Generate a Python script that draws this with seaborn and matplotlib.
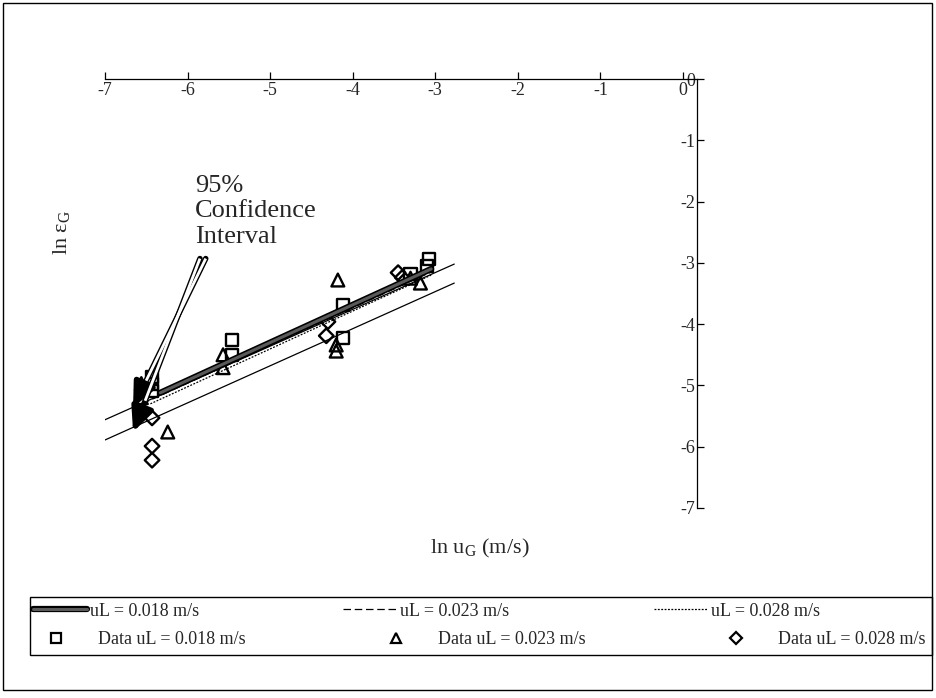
import numpy as np
import pandas as pd
import matplotlib
matplotlib.use("Agg")
import matplotlib.pyplot as plt
import matplotlib.patheffects as pe
from matplotlib.lines import Line2D
from matplotlib.patches import Rectangle
import seaborn as sns

# ---------------- data ----------------
x_ticks = [-7, -6, -5, -4, -3, -2, -1, 0]
x_tick_labels = ["-7", "-6", "-5", "-4", "-3", "-2", "-1", "0"]
y_ticks = [0, -1, -2, -3, -4, -5, -6, -7]
y_tick_labels = ["0", "-1", "-2", "-3", "-4", "-5", "-6", "-7"]

# measured data, ln uG vs ln eps_G
sq_x = [-6.43, -6.43, -6.43, -5.46, -5.46, -4.12, -4.12, -3.30, -3.10, -3.08]
sq_y = [-4.86, -4.98, -5.09, -4.26, -4.50, -3.69, -4.23, -3.18, -3.05, -2.93]
tri_x = [-6.56, -6.56, -6.56, -6.24, -5.57, -5.57, -4.18, -4.20, -4.20, -3.30, -3.18]
tri_y = [-4.97, -5.09, -5.20, -5.76, -4.50, -4.71, -3.28, -4.34, -4.44, -3.25, -3.33]
dia_x = [-6.43, -6.43, -6.43, -4.30, -4.32, -3.45, -3.40]
dia_y = [-5.53, -5.99, -6.22, -3.96, -4.19, -3.16, -3.24]

# fitted lines
fit018_x = [-6.33, -3.05]
fit018_y = [-5.12, -3.10]
fit023_x = [-6.55, -3.05]
fit023_y = [-5.30, -3.15]
fit028_x = [-6.45, -3.05]
fit028_y = [-5.30, -3.20]
# 95% confidence interval bounds
ci_x = [-7.0, -2.77]
ci_upper = [-5.56, -3.02]
ci_lower = [-5.89, -3.33]

legend_labels = ["uL = 0.018 m/s", "uL = 0.023 m/s", "uL = 0.028 m/s",
                 "Data uL = 0.018 m/s", "Data uL = 0.023 m/s", "Data uL = 0.028 m/s"]

# ---------------- style ----------------
sns.set_theme(style="white")
plt.rcParams["font.family"] = ["Liberation Serif", "DejaVu Serif"]
plt.rcParams["axes.unicode_minus"] = False
plt.rcParams["mathtext.fontset"] = "custom"
plt.rcParams["mathtext.rm"] = "Liberation Serif"
plt.rcParams["mathtext.it"] = "Liberation Serif:italic"

W, H = 937, 698
fig = plt.figure(figsize=(W / 100, H / 100), dpi=100)
fig.patch.set_facecolor("white")
ax = fig.add_axes([105 / W, 1 - 508 / H, (697 - 105) / W, (508 - 79) / H])
ax.set_facecolor("white")

# CI lines
for yv in (ci_upper, ci_lower):
    sns.lineplot(x=ci_x, y=yv, ax=ax, color="black", lw=0.9, legend=False,
                 estimator=None, sort=False)

# fit lines
sns.lineplot(x=fit028_x, y=fit028_y, ax=ax, color="black", lw=0.9, legend=False,
             estimator=None, sort=False)
ax.lines[-1].set_dashes([1.5, 1.2])
sns.lineplot(x=fit023_x, y=fit023_y, ax=ax, color="black", lw=0.9, legend=False,
             estimator=None, sort=False)
ax.lines[-1].set_dashes([6, 3])
sns.lineplot(x=fit018_x, y=fit018_y, ax=ax, color="#5a5a5a", lw=2.2, legend=False,
             estimator=None, sort=False)
ax.lines[-1].set_path_effects([pe.Stroke(linewidth=4.5, foreground="black"), pe.Normal()])

# data markers
for xs, ys, mk, ms in ((sq_x, sq_y, "s", 75), (tri_x, tri_y, "^", 85), (dia_x, dia_y, "D", 55)):
    sns.scatterplot(x=xs, y=ys, ax=ax, marker=mk, s=ms, legend=False)
    coll = ax.collections[-1]
    coll.set_facecolor("none")
    coll.set_edgecolor("black")
    coll.set_linewidth(1.7)

ax.set_xlim(-7, 0.17)
ax.set_ylim(-7, 0)

# axes lines: x axis at y=0 (top), y axis at right
for s in ("top", "left"):
    ax.spines[s].set_visible(False)
ax.spines["bottom"].set_position(("data", 0))
for s in ("bottom", "right"):
    ax.spines[s].set_color("black")
    ax.spines[s].set_linewidth(0.9)

ax.set_xticks(x_ticks)
ax.set_xticklabels(x_tick_labels)
ax.tick_params(axis="x", direction="in", length=5, width=0.9, color="black",
               labelsize=13, pad=2, bottom=True, top=False)

ax.yaxis.set_ticks_position("right")
ax.set_yticks(y_ticks)
ax.set_yticklabels(y_tick_labels)
ax.tick_params(axis="y", direction="out", length=5, width=0.9, color="black",
               labelsize=13, pad=-6.5, right=True, left=False)
for lbl in ax.get_yticklabels():
    lbl.set_horizontalalignment("right")

# axis titles
fig.text(480 / W, 1 - 548 / H, r"ln u$_\mathregular{G}$ (m/s)", ha="center", va="center", fontsize=16)
fig.text(62 / W, 1 - 232 / H, r"ln ε$_\mathregular{G}$", ha="center", va="center", fontsize=16,
         rotation=90)

# annotation
fig.text(195 / W, 1 - 175 / H, "95%\nConfidence\nInterval", ha="left", va="top",
         fontsize=19, linespacing=1.2)
tips = [(-6.66, -5.36), (-6.66, -5.76)]
tails = [(-5.78, -2.93), (-5.85, -2.93)]
for tip, tail in zip(tips, tails):
    ax.annotate("", xy=tip, xytext=tail,
                arrowprops=dict(arrowstyle="-|>,head_length=1.2,head_width=0.55",
                                mutation_scale=12, color="black", lw=4.0,
                                shrinkA=0, shrinkB=0), zorder=6)
    mid = (tail[0] + 0.82 * (tip[0] - tail[0]), tail[1] + 0.82 * (tip[1] - tail[1]))
    ax.plot([tail[0], mid[0]], [tail[1], mid[1]], color="white", lw=2.0,
            solid_capstyle="butt", zorder=7)

# legend: two rows drawn as two frameless legends inside one box
h018 = Line2D([], [], color="#5a5a5a", lw=2.2,
              path_effects=[pe.Stroke(linewidth=4.5, foreground="black"), pe.Normal()])
h023 = Line2D([], [], color="black", lw=0.9, dashes=[6, 3])
h028 = Line2D([], [], color="black", lw=0.9, dashes=[1.5, 1.2])
hsq = Line2D([], [], marker="s", ls="none", mfc="none", mec="black", ms=7, mew=1.6)
htri = Line2D([], [], marker="^", ls="none", mfc="none", mec="black", ms=7.5, mew=1.6)
hdia = Line2D([], [], marker="D", ls="none", mfc="none", mec="black", ms=6, mew=1.6)

leg1 = fig.legend([h018, h023, h028], legend_labels[:3], loc="center left", ncol=3,
                  bbox_to_anchor=(33 / W, 1 - 611 / H), frameon=False, borderaxespad=0,
                  borderpad=0, handlelength=3.0, handletextpad=0.15, fontsize=13,
                  columnspacing=8.0)
leg2 = fig.legend([hsq, htri, hdia], legend_labels[3:], loc="center left", ncol=3,
                  bbox_to_anchor=(33 / W, 1 - 640 / H), frameon=False, borderaxespad=0,
                  borderpad=0, handlelength=2.6, handletextpad=1.0, fontsize=13,
                  columnspacing=7.05)

# legend box
fig.patches.append(Rectangle((30 / W, 1 - 655 / H), 902 / W, 58 / H, transform=fig.transFigure,
                             fill=False, edgecolor="black", lw=1.0))
# outer frame
fig.patches.append(Rectangle((3 / W, 8 / H), 929 / W, 687 / H, transform=fig.transFigure,
                             fill=False, edgecolor="black", lw=1.0))

fig.savefig("out.png", dpi=100, facecolor="white")
